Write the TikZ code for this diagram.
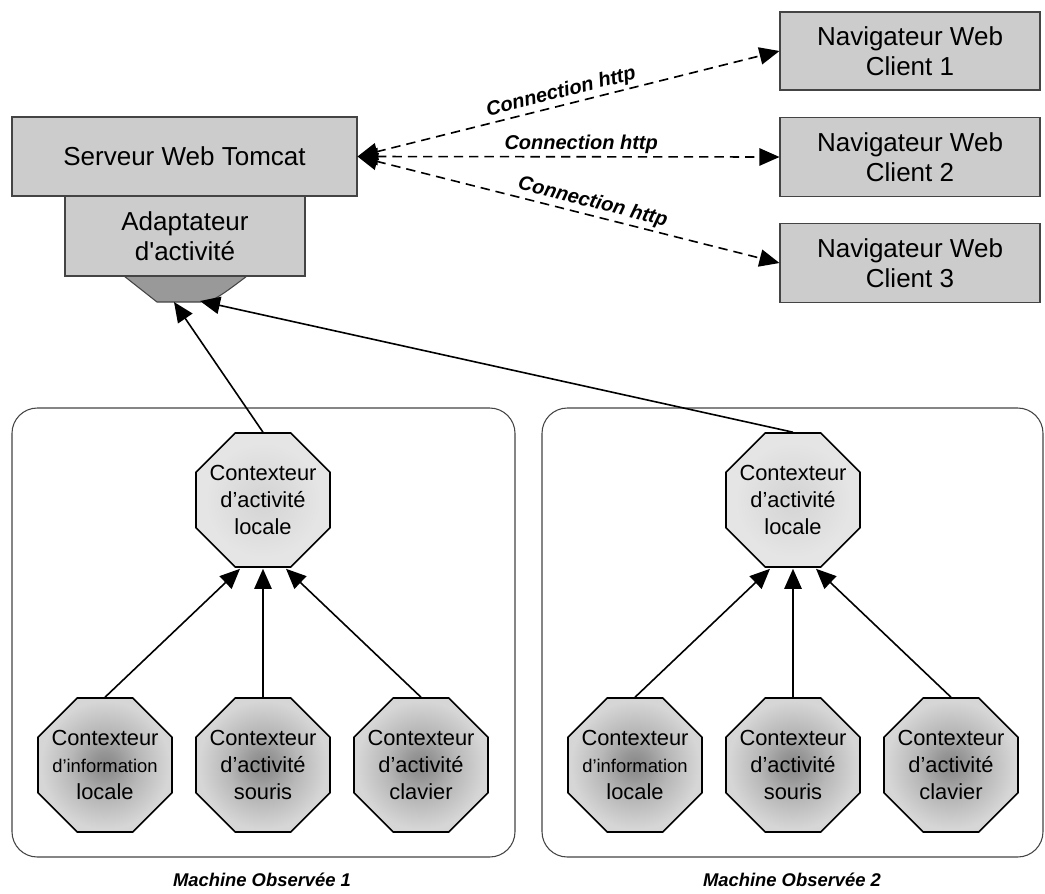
\documentclass[tikz,border=0pt]{standalone}
\usepackage{fontspec}
\setmainfont{Liberation Sans}
\usetikzlibrary{shapes.geometric,arrows.meta,calc}
\definecolor{boxgray}{HTML}{CCCCCC}
\definecolor{trapgray}{HTML}{999999}
\definecolor{framegray}{HTML}{444444}
\pgfdeclareradialshading{octlight}{\pgfpoint{0bp}{0bp}}{color(0bp)=(black!17);color(10bp)=(black!14);color(22bp)=(black!10);color(60bp)=(black!10)}
\pgfdeclareradialshading{octdark}{\pgfpoint{0bp}{0bp}}{color(0bp)=(black!47);color(5bp)=(black!41);color(13bp)=(black!28);color(24bp)=(black!16);color(60bp)=(black!16)}
\begin{document}
\begin{tikzpicture}[x=0.75pt,y=-0.75pt,
  box/.style={draw=framegray,line width=0.8pt,fill=boxgray,align=center,inner sep=0pt,
    font=\fontsize{19.5}{22.5}\selectfont},
  oct/.style={regular polygon,regular polygon sides=8,minimum size=108.75pt,inner sep=0pt,
    draw=black,line width=1.2pt},
  octtxt/.style={align=center,font=\fontsize{16.4}{20}\selectfont,inner sep=0pt},
  octtop/.style={oct,shading=octlight},
  octbot/.style={oct,shading=octdark},
  machine/.style={draw=framegray,line width=0.8pt,rounded corners=19pt},
  conn/.style={line width=1.2pt,-{Triangle[length=15pt,width=13pt]}},
  http/.style={line width=1.2pt,dash pattern=on 7pt off 4.5pt,
    {Triangle[length=15pt,width=13pt]}-{Triangle[length=15pt,width=13pt]}},
  httplabel/.style={font=\fontsize{15}{18}\selectfont\bfseries\itshape,sloped,above=1pt,inner sep=1pt},
  mlabel/.style={font=\fontsize{13.8}{16}\selectfont\bfseries\itshape}
]
\useasboundingbox (0,0) rectangle (1045,893);

% machine frames
\draw[machine] (12,408) rectangle (515,857);
\draw[machine] (542,408) rectangle (1043,857);
\node[mlabel] (m1) at (262,880) {Machine Observée 1};
\node[mlabel] (m2) at (792,880) {Machine Observée 2};

% trapezoid under adapter
\draw[fill=trapgray,draw=framegray,line width=0.8pt]
  (124,276) -- (157,302) -- (200,302) .. controls (212,302) and (218,298) .. (247,276) -- cycle;

% server boxes
\node[box,minimum width=258.75pt,minimum height=59.25pt] (srv) at (184.5,156.5) {Serveur Web Tomcat};
\node[box,minimum width=180pt,minimum height=60pt] (adp) at (185,236) {Adaptateur\\d\textquotesingle activité};

% browsers
\node[box,minimum width=195pt,minimum height=58.5pt] (n1) at (910,51) {Navigateur Web\\Client 1};
\node[box,minimum width=195pt,minimum height=59.25pt] (n2) at (910,157) {Navigateur Web\\Client 2};
\node[box,minimum width=195pt,minimum height=59.25pt] (n3) at (910,263) {Navigateur Web\\Client 3};

% http connections
\draw[http] (srv.east) -- (n1.west) node[httplabel,pos=0.49] {Connection http};
\draw[http] (srv.east) -- (n2.west) node[httplabel,pos=0.53] {Connection http};
\draw[http] (srv.east) -- (n3.west) node[httplabel,pos=0.55] {Connection http};

% octagons machine 1
\node[octtop] (c1) at (263,500) {};
\node[octbot] (a1) at (105,765) {};
\node[octbot] (b1) at (263,765) {};
\node[octbot] (k1) at (421,765) {};
% octagons machine 2
\node[octtop] (c2) at (793,500) {};
\node[octbot] (a2) at (635,765) {};
\node[octbot] (b2) at (793,765) {};
\node[octbot] (k2) at (951,765) {};

% octagon texts
\node[octtxt] (c1t) at (c1.center) {Contexteur\\d’activité\\locale};
\node[octtxt] (a1t) at (a1.center) {Contexteur\\{\fontsize{13.8}{17}\selectfont d’information}\\locale};
\node[octtxt] (b1t) at (b1.center) {Contexteur\\d’activité\\souris};
\node[octtxt] (k1t) at (k1.center) {Contexteur\\d’activité\\clavier};
\node[octtxt] (c2t) at (c2.center) {Contexteur\\d’activité\\locale};
\node[octtxt] (a2t) at (a2.center) {Contexteur\\{\fontsize{13.8}{17}\selectfont d’information}\\locale};
\node[octtxt] (b2t) at (b2.center) {Contexteur\\d’activité\\souris};
\node[octtxt] (k2t) at (k2.center) {Contexteur\\d’activité\\clavier};

% arrow targets
\coordinate (t1) at (174,302);
\coordinate (t2) at (200,301);
\coordinate (l1) at ($(c1.south)+(-23,1)$);
\coordinate (m1t) at ($(c1.south)+(0,1)$);
\coordinate (r1) at ($(c1.south)+(23,1)$);
\coordinate (l2) at ($(c2.south)+(-23,1)$);
\coordinate (m2t) at ($(c2.south)+(0,1)$);
\coordinate (r2) at ($(c2.south)+(23,1)$);

\draw[conn] (c1.north) -- (t1);
\draw[conn] (c2.north) -- (t2);
\draw[conn] (a1.north) -- (l1);
\draw[conn] (b1.north) -- (m1t);
\draw[conn] (k1.north) -- (r1);
\draw[conn] (a2.north) -- (l2);
\draw[conn] (b2.north) -- (m2t);
\draw[conn] (k2.north) -- (r2);
\end{tikzpicture}
\end{document}
